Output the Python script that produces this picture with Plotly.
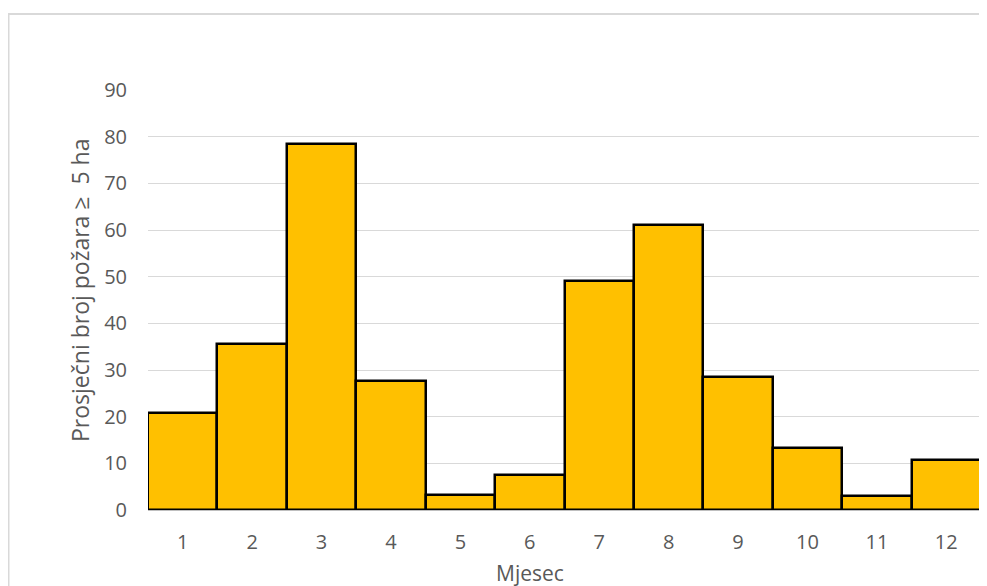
import plotly.graph_objects as go

# monthly averages
months = [1, 2, 3, 4, 5, 6, 7, 8, 9, 10, 11, 12]
avg_fires = [20.8, 35.6, 78.4, 27.6, 3.2, 7.5, 49.1, 61.1, 28.5, 13.3, 3.0, 10.7]
y_ticks = [0, 10, 20, 30, 40, 50, 60, 70, 80, 90]

# page body has an 8px margin, so the figure is drawn 8px smaller and shifted
OFF = 8
W, H = 987 - OFF, 586 - OFF
L, R, T, B = 148 - OFF, 6, 90 - OFF, 76
pw, ph = W - L - R, H - T - B

def px_x(x):
    # screen pixel -> paper coordinate
    return (x - OFF - L) / pw

def px_y(y):
    return (H - B - (y - OFF)) / ph

grey = '#595959'
font_fam = 'Open Sans, Noto Sans, DejaVu Sans, sans-serif'

fig = go.Figure()
fig.add_trace(go.Bar(
    x=months,
    y=avg_fires,
    marker=dict(color='#FFC000', line=dict(color='black', width=2.5)),
))

fig.update_layout(
    width=W, height=H,
    margin=dict(l=L, r=R, t=T, b=B),
    plot_bgcolor='white',
    paper_bgcolor='white',
    bargap=0,
    showlegend=False,
    font=dict(family=font_fam, color=grey, size=20),
    xaxis=dict(
        tickmode='array', tickvals=months, ticktext=[str(m) for m in months],
        range=[0.5, 12.5], showgrid=False, zeroline=False,
        showline=True, linecolor='#BFBFBF', linewidth=1,
        ticks='', ticklabelstandoff=14,
    ),
    yaxis=dict(
        tickmode='array', tickvals=y_ticks, range=[0, 90],
        showgrid=True, gridcolor='#D9D9D9', gridwidth=1,
        zeroline=False, showline=False, ticks='', ticklabelstandoff=20,
    ),
    annotations=[
        dict(text='Mjesec', xref='paper', yref='paper', x=px_x(530), y=px_y(557),
             xanchor='center', yanchor='top',
             showarrow=False, font=dict(size=21, color=grey)),
        dict(text='Prosječni broj požara ≥  5 ha', xref='paper', yref='paper',
             x=px_x(62), y=px_y(291), textangle=-90,
             showarrow=False, font=dict(size=23, color=grey)),
    ],
    shapes=[
        dict(type='rect', xref='paper', yref='paper',
             x0=px_x(8.5), x1=px_x(1000), y0=px_y(600), y1=px_y(14),
             line=dict(color='#D9D9D9', width=2), layer='below'),
    ],
)

fig.write_html("out.html")
